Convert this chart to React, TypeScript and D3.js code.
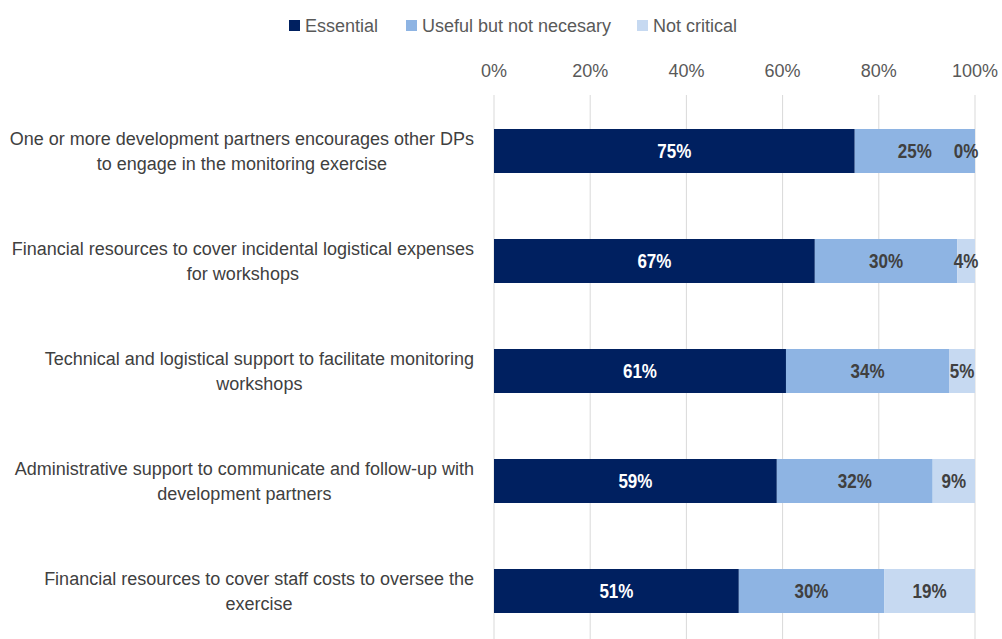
import React from "react";
import * as d3 from "d3";

const categories: string[][] = [
  ["One or more development partners encourages other DPs", "to engage in the monitoring exercise"],
  ["Financial resources to cover incidental logistical expenses", "for workshops"],
  ["Technical and logistical support to facilitate monitoring", "workshops"],
  ["Administrative support to communicate and follow-up with", "development partners"],
  ["Financial resources to cover staff costs to oversee the", "exercise"],
];
const essential = [75, 66.7, 60.7, 58.8, 50.9];
const useful = [25, 29.6, 33.9, 32.4, 30.2];
const notCritical = [0, 3.7, 5.4, 8.8, 18.9];
const seriesNames = ["Essential", "Useful but not necesary", "Not critical"];
const seriesColors = ["#002060", "#8EB4E3", "#C6D9F1"];
const labelColors = ["#FFFFFF", "#404040", "#404040"];
const xTicks = [0, 20, 40, 60, 80, 100];

const W = 1002;
const H = 639;
const FONT = "'Liberation Sans', Arial, sans-serif";
const CAT_SIZE = 18;

let ctx: CanvasRenderingContext2D | null = null;
function measure(s: string, size: number): number {
  if (!ctx) {
    const c = document.createElement("canvas");
    ctx = c.getContext("2d");
  }
  if (!ctx) return s.length * size * 0.5;
  ctx.font = `${size}px 'Liberation Sans', Arial, sans-serif`;
  return ctx.measureText(s).width;
}

export default function App() {
  const x = d3.scaleLinear().domain([0, 100]).range([494, 975]);
  const y = d3
    .scaleBand<number>()
    .domain(categories.map((_, i) => i))
    .range([96, 646])
    .paddingInner(0.6)
    .paddingOuter(0.3);

  const rows = categories.map((_, i) => ({
    i,
    v0: essential[i],
    v1: useful[i],
    v2: notCritical[i],
  }));
  const stack = d3.stack<any>().keys(["v0", "v1", "v2"]);
  const stacked = stack(rows);

  const legendX = [289, 406, 637];
  const labelRight = 474;

  return (
    <svg
      width={W}
      height={H}
      style={{ position: "absolute", left: 0, top: 0, background: "#fff" }}
      fontFamily={FONT}
    >
      {/* legend */}
      {seriesNames.map((n, k) => (
        <g key={n}>
          <rect x={legendX[k]} y={20} width={11} height={11} fill={seriesColors[k]} />
          <text x={legendX[k] + 16} y={32} fontSize={18} fill="#595959">
            {n}
          </text>
        </g>
      ))}
      {/* x tick labels */}
      {xTicks.map((t) => (
        <text
          key={t}
          x={x(t)}
          y={77}
          fontSize={18}
          fill="#595959"
          textAnchor="middle"
        >
          {t}%
        </text>
      ))}
      {/* gridlines */}
      {xTicks.map((t) => (
        <line
          key={"g" + t}
          x1={x(t)}
          x2={x(t)}
          y1={95}
          y2={H}
          stroke="#D9D9D9"
          strokeWidth={1}
        />
      ))}
      {/* bars */}
      {stacked.map((s, k) =>
        s.map((d, i) => (
          <rect
            key={k + "-" + i}
            x={x(d[0])}
            y={y(i)!}
            width={Math.max(0, x(d[1]) - x(d[0]))}
            height={y.bandwidth()}
            fill={seriesColors[k]}
          />
        ))
      )}
      {/* value labels */}
      {stacked.map((s, k) =>
        s.map((d, i) => {
          const v = d[1] - d[0];
          const mid = Math.min((x(d[0]) + x(d[1])) / 2, x(100) - 9);
          const yy = y(i)! + y.bandwidth() / 2 + 7;
          return (
            <text
              key={"l" + k + "-" + i}
              transform={`translate(${mid},${yy}) scale(0.85,1)`}
              fontSize={20}
              fontWeight="bold"
              fill={labelColors[k]}
              textAnchor="middle"
            >
              {Math.round(v)}%
            </text>
          );
        })
      )}
      {/* category labels */}
      {categories.map((lines, i) => {
        const wMax = Math.max(...lines.map((l) => measure(l, CAT_SIZE)));
        const cx = labelRight - wMax / 2;
        return (
          <text
            key={"c" + i}
            x={cx}
            y={y(i)! + y.bandwidth() / 2 - 6}
            fontSize={CAT_SIZE}
            fill="#404040"
            textAnchor="middle"
          >
            {lines.map((l, j) => (
              <tspan key={j} x={cx} dy={j === 0 ? 0 : 25}>
                {l}
              </tspan>
            ))}
          </text>
        );
      })}
    </svg>
  );
}
